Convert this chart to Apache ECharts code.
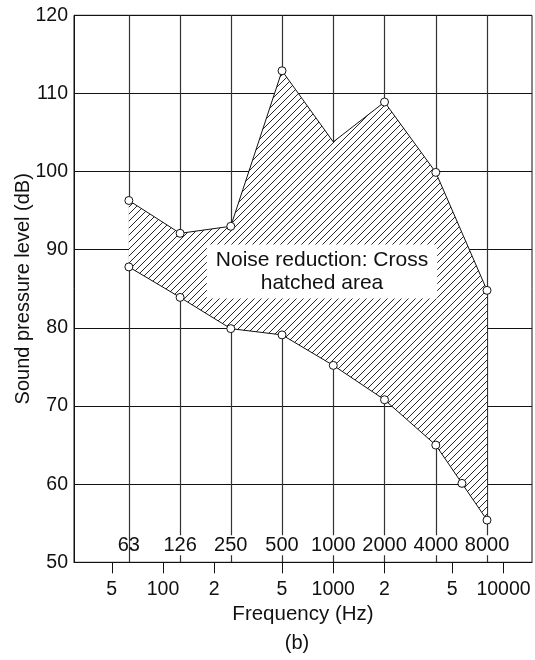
<!DOCTYPE html>
<html>
<head>
<meta charset="utf-8">
<script src="https://cdn.jsdelivr.net/npm/echarts@6/dist/echarts.min.js"></script>
<style>html,body{margin:0;padding:0;background:#fff;}#c{width:535px;height:660px;}</style>
</head>
<body>
<div id="c"></div>
<script>
// ---- data ----
const upperFreq = [63, 126, 250, 500, 1000, 2000, 4000, 8000];
const upperLevel = [96.3, 92.1, 93.0, 112.9, 103.8, 108.9, 99.9, 84.8];
const upperHasMarker = [1, 1, 1, 1, 0, 1, 1, 1];
const lowerFreq = [63, 126, 250, 500, 1000, 2000, 4000, 5700, 8000];
const lowerLevel = [87.8, 83.9, 79.9, 79.1, 75.2, 70.8, 65.0, 60.1, 55.4];
const bandFreqs = [63, 126, 250, 500, 1000, 2000, 4000, 8000];
const bandLabels = ['63', '126', '250', '500', '1000', '2000', '4000', '8000'];
const bottomTickValues = [50, 100, 200, 500, 1000, 2000, 5000, 10000];
const bottomTickLabels = ['5', '100', '2', '5', '1000', '2', '5', '10000'];

const FONT = "'Liberation Sans', Arial, Helvetica, sans-serif";
const X_MIN = 30, X_MAX = 14700;

// hatch pattern
const hc = document.createElement('canvas');
const S = 7;
hc.width = S; hc.height = S;
const hx = hc.getContext('2d');
hx.fillStyle = '#fff'; hx.fillRect(0, 0, S, S);
hx.strokeStyle = '#111'; hx.lineWidth = 0.9;
hx.beginPath();
hx.moveTo(0, S); hx.lineTo(S, 0);
hx.moveTo(-1, 1); hx.lineTo(1, -1);
hx.moveTo(S - 1, S + 1); hx.lineTo(S + 1, S - 1);
hx.stroke();

function nearestIdx(arr, v) {
  let best = 0;
  for (let i = 1; i < arr.length; i++) if (Math.abs(arr[i] - v) < Math.abs(arr[best] - v)) best = i;
  return best;
}

const polyData = [];
upperFreq.forEach((f, i) => polyData.push([f, upperLevel[i]]));
for (let i = lowerFreq.length - 1; i >= 0; i--) polyData.push([lowerFreq[i], lowerLevel[i]]);

const chart = echarts.init(document.getElementById('c'));
chart.setOption({
  animation: false,
  textStyle: { fontFamily: FONT },
  grid: { left: 74, right: 3, top: 15.3, bottom: 97.7, show: true, borderColor: '#111', borderWidth: 1, backgroundColor: 'transparent' },
  xAxis: [
    {
      type: 'log', min: X_MIN, max: X_MAX, position: 'bottom',
      axisLine: { show: true, lineStyle: { color: '#111', width: 1 } },
      axisTick: { show: true, customValues: bottomTickValues, length: 11, lineStyle: { color: '#111', width: 1 } },
      axisLabel: {
        customValues: bottomTickValues, margin: 17, fontSize: 19.5, color: '#111', fontFamily: FONT,
        formatter: v => bottomTickLabels[nearestIdx(bottomTickValues, v)]
      },
      splitLine: { show: false }, minorTick: { show: false },
      name: 'Frequency (Hz)', nameLocation: 'middle', nameGap: 38,
      nameTextStyle: { fontSize: 20.5, color: '#111', fontFamily: FONT }
    },
    {
      type: 'log', min: X_MIN, max: X_MAX, position: 'bottom',
      axisLine: { show: false },
      axisTick: { show: false, customValues: bandFreqs },
      axisLabel: { show: false },
      splitLine: { show: true, lineStyle: { color: '#333', width: 1.2 } }
    },
    {
      type: 'log', min: X_MIN, max: X_MAX, position: 'bottom', z: 1,
      axisLine: { show: false },
      axisTick: { show: false },
      splitLine: { show: false },
      axisLabel: {
        inside: true, margin: 7, customValues: bandFreqs,
        formatter: v => {
          const i = nearestIdx(bandFreqs, v);
          return i === 0 ? '{n|' + bandLabels[i] + '}' : '{w|' + bandLabels[i] + '}';
        },
        rich: {
          n: { fontSize: 20, color: '#111', fontFamily: FONT },
          w: { fontSize: 20, color: '#111', fontFamily: FONT, backgroundColor: '#fff', padding: [0, 0] }
        }
      }
    }
  ],
  yAxis: {
    type: 'value', min: 50, max: 120, interval: 10,
    axisLine: { show: true, lineStyle: { color: '#111', width: 1 } },
    axisTick: { show: false },
    axisLabel: { fontSize: 19.5, color: '#111', margin: 6, fontFamily: FONT },
    splitLine: { show: true, lineStyle: { color: '#111', width: 1 } },
    name: 'Sound pressure level (dB)', nameLocation: 'middle', nameGap: 41, nameMoveOverlap: false,
    nameTextStyle: { fontSize: 20, color: '#111', fontFamily: FONT }
  },
  series: [
    {
      type: 'custom', xAxisIndex: 0, yAxisIndex: 0, z: 2, silent: true,
      data: polyData,
      renderItem: function (params, api) {
        if (params.dataIndex !== 0) return null;
        const pts = polyData.map(p => api.coord(p));
        return { type: 'polygon', shape: { points: pts }, style: { fill: { image: hc, repeat: 'repeat' }, stroke: null } };
      }
    },
    {
      type: 'line', xAxisIndex: 0, yAxisIndex: 0, z: 3,
      data: upperFreq.map((f, i) => ({ value: [f, upperLevel[i]], symbol: upperHasMarker[i] ? 'circle' : 'none' })),
      symbolSize: 8,
      lineStyle: { color: '#111', width: 1 },
      itemStyle: { color: '#fff', borderColor: '#111', borderWidth: 1 }
    },
    {
      type: 'line', xAxisIndex: 0, yAxisIndex: 0, z: 3,
      data: lowerFreq.map((f, i) => [f, lowerLevel[i]]),
      symbol: 'circle', symbolSize: 8, showAllSymbol: true,
      lineStyle: { color: '#111', width: 1 },
      itemStyle: { color: '#fff', borderColor: '#111', borderWidth: 1 }
    }
  ],
  graphic: [
    {
      type: 'text', z: 100,
      style: {
        text: 'Noise reduction: Cross\nhatched area', x: 322, y: 271.5,
        align: 'center', verticalAlign: 'middle', fontSize: 21, lineHeight: 23,
        fontFamily: FONT, fill: '#111', backgroundColor: '#fff', padding: [4, 9]
      }
    },
    {
      type: 'text', z: 100,
      style: { text: '(b)', x: 297, y: 643, align: 'center', verticalAlign: 'middle', fontSize: 20, fontFamily: FONT, fill: '#111' }
    }
  ]
});
</script>
</body>
</html>
